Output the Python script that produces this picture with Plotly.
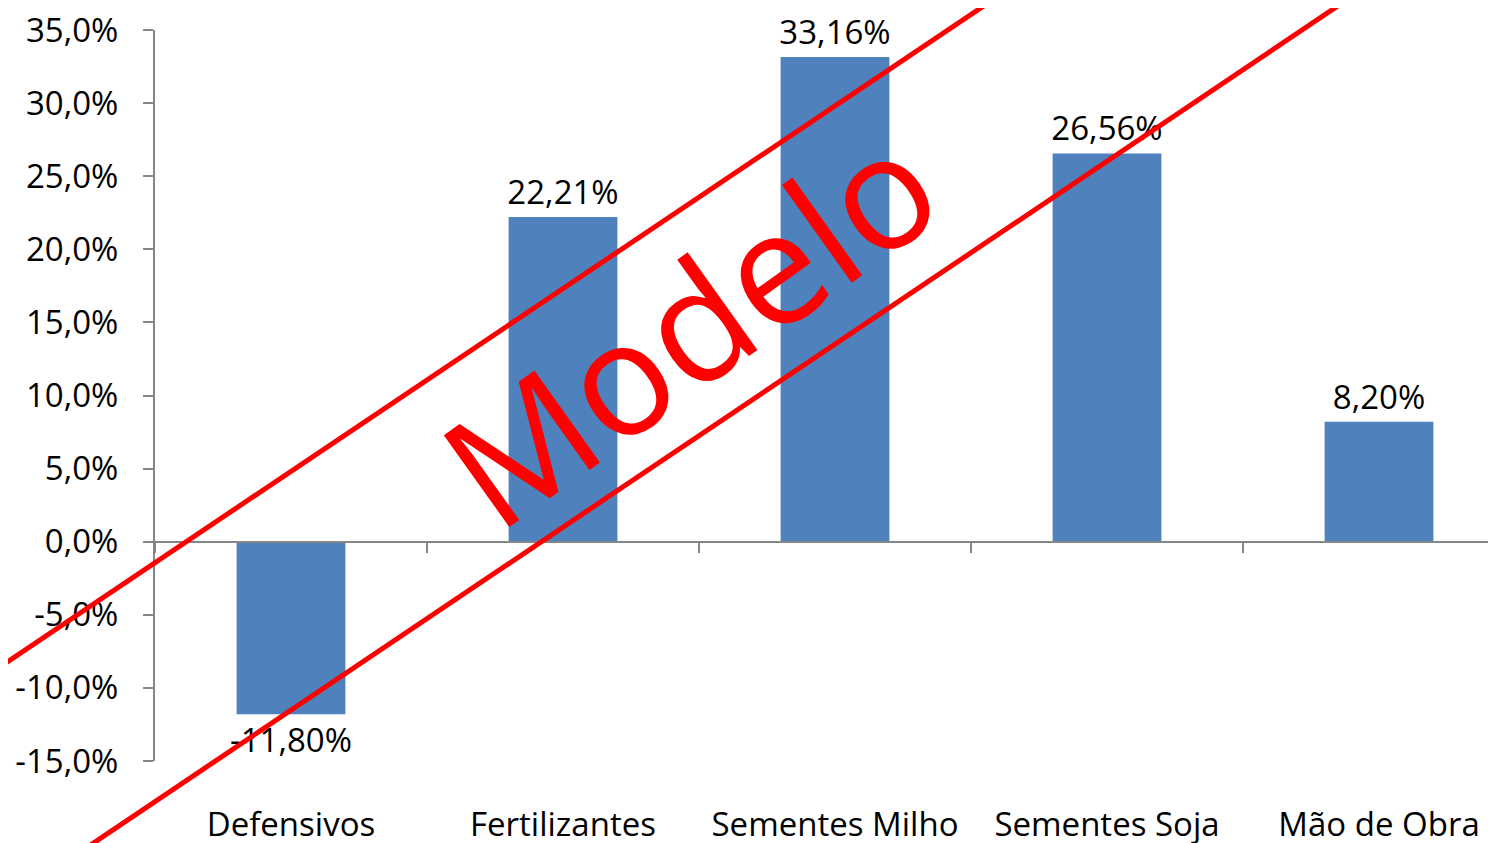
import plotly.graph_objects as go

# ---- data ----
categories = ["Defensivos", "Fertilizantes", "Sementes Milho", "Sementes Soja", "Mão de Obra"]
values = [-0.1180, 0.2221, 0.3316, 0.2656, 0.0820]
y_min, y_max, y_step = -0.15, 0.35, 0.05
tick_vals = [round(y_min + i * y_step, 2) for i in range(int(round((y_max - y_min) / y_step)) + 1)]
tick_text = [f"{v * 100:.1f}%".replace(".", ",") for v in tick_vals]
bar_text = [f"{v * 100:.2f}%".replace(".", ",") for v in values]

# ---- layout geometry (screen pixels; page body has an 8px margin) ----
OFF = 8
W, H = 1496 - OFF, 843 - OFF
L, R, T, B = 155 - OFF, 1496 - OFF, 30 - OFF, 761 - OFF
FONT = "Open Sans"
AXIS_COLOR = "#868686"
BAR_COLOR = "#4F81BD"
WM = "#FF0000"
EPS = 1e-6


def px(x):  # screen x -> paper
    return (x - OFF - L) / (R - L)


def py(y):  # screen y -> paper
    return (B - (y - OFF)) / (B - T)


xrange_ = [-0.5, -0.5 + (R - L) / 272.0]
zero_pos = (0 - y_min) / (y_max - y_min)

fig = go.Figure()
fig.add_trace(go.Bar(
    x=categories, y=values, width=0.4,
    marker=dict(color=BAR_COLOR, line=dict(width=0)),
    text=bar_text, textposition="outside",
    textfont=dict(family=FONT, size=33, color="black"),
    cliponaxis=False, constraintext="none",
    hoverinfo="skip", showlegend=False,
))
# invisible helper trace for the category axis drawn at zero
fig.add_trace(go.Scatter(
    x=categories, y=values, xaxis="x2", mode="markers",
    marker=dict(opacity=0), hoverinfo="skip", showlegend=False,
))

fig.update_layout(
    width=W, height=H,
    margin=dict(l=L, r=W - R, t=T, b=H - B, autoexpand=False),
    paper_bgcolor="white", plot_bgcolor="white",
    font=dict(family=FONT, color="black"),
    xaxis=dict(
        type="category", categoryarray=categories, range=xrange_,
        showline=False, ticks="", showgrid=False, zeroline=False,
        tickfont=dict(family=FONT, size=33, color="black"),
        ticklabelstandoff=41, ticklabeloverflow="allow",
    ),
    xaxis2=dict(
        type="category", categoryarray=categories, range=xrange_,
        overlaying="x", anchor="free", position=zero_pos, side="bottom",
        showline=True, linecolor=AXIS_COLOR, linewidth=2,
        ticks="outside", tickson="boundaries", ticklen=10, tickwidth=2,
        tickcolor=AXIS_COLOR, showticklabels=False, showgrid=False, zeroline=False,
    ),
    yaxis=dict(
        range=[y_min - EPS, y_max + EPS], tickmode="array",
        tickvals=tick_vals, ticktext=tick_text,
        showline=True, linecolor=AXIS_COLOR, linewidth=2,
        ticks="outside", ticklen=10, tickwidth=2, tickcolor=AXIS_COLOR,
        showgrid=False, zeroline=False,
        tickfont=dict(family=FONT, size=33, color="black"),
        ticklabelstandoff=18, ticklabeloverflow="allow",
    ),
)

# ---- "Modelo" watermark ----
for (x0, y0), (x1, y1) in [((-100, 734), (1000, -5)), ((40, 879), (1360, -9))]:
    fig.add_shape(type="line", xref="paper", yref="paper",
                  x0=px(x0), y0=py(y0), x1=px(x1), y1=py(y1),
                  line=dict(color=WM, width=5), layer="above")

fig.add_annotation(
    xref="paper", yref="paper", x=px(687), y=py(324),
    text="Modelo", showarrow=False, textangle=-35.5,
    xanchor="center", yanchor="middle",
    font=dict(family=FONT, size=158, color=WM),
)

fig.write_html("out.html")
